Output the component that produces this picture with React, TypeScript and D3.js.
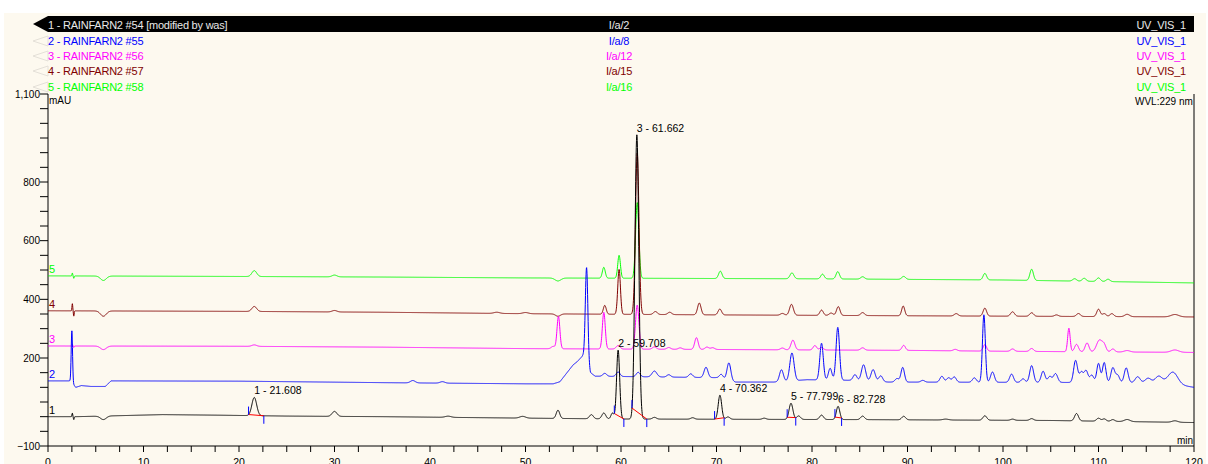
import React from "react";
import * as d3 from "d3";

// ---------- DATA ----------
const xTickLabels = [0, 10, 20, 30, 40, 50, 60, 70, 80, 90, 100, 110, 120];
const yTickLabels = [1100, 800, 600, 400, 200, -100];

const legendNames = [
  "1 - RAINFARN2 #54 [modified by was]",
  "2 - RAINFARN2 #55",
  "3 - RAINFARN2 #56",
  "4 - RAINFARN2 #57",
  "5 - RAINFARN2 #58",
];
const legendSamples = ["I/a/2", "I/a/8", "I/a/12", "I/a/15", "I/a/16"];
const legendChannels = ["UV_VIS_1", "UV_VIS_1", "UV_VIS_1", "UV_VIS_1", "UV_VIS_1"];
const traceColors = ["#000000", "#0000ff", "#ff00ff", "#800000", "#00ff00"];

// baseline knots [time(min), mAU]
const baseline1 = [[0, 0], [3, 0], [7, 3], [12, 7], [18, 5], [25, 2], [35, 0], [50, -5], [60, -8], [85, -10], [105, -13], [120, -20]];
const baseline2 = [[0, 122], [2.4, 122], [2.9, 100], [3.5, 106], [4.5, 103], [6.0, 103], [6.6, 122], [20, 121], [35, 116], [50, 112], [52.9, 112], [53.6, 119], [55.0, 177], [55.4, 187], [56.0, 208], [56.3, 210], [56.8, 150], [57.3, 138], [70, 133], [72, 118], [76, 118], [79.5, 126], [84, 124], [88, 118], [117, 116], [120, 100]];
const baseline3 = [[0, 241], [20, 240], [35, 237], [50, 232], [70, 229], [90, 226], [100, 223], [120, 219]];
const baseline4 = [[0, 361], [20, 359], [35, 356], [50, 351], [70, 347], [90, 344], [120, 340]];
const baseline5 = [[0, 480], [20, 478], [35, 476], [50, 473], [60, 472], [80, 470], [100, 466], [120, 456]];

// peaks [retention time, height mAU, sigma min]
const peaks1 = [
  [2.55, 12, 0.04], [2.7, -10, 0.04], [5.8, -12, 0.3], [21.6, 62, 0.25], [30.0, 17, 0.25],
  [41.9, 4, 0.3], [49.7, 6, 0.3], [53.4, 28, 0.18], [56.9, 14, 0.2], [58.2, 20, 0.2],
  [59.1, 20, 0.15], [59.7, 235, 0.16], [61.66, 969, 0.2], [63.5, 6, 0.2], [67.5, 5, 0.2],
  [70.36, 82, 0.18], [71.2, 8, 0.2], [75, 4, 0.2], [77.8, 55, 0.2], [78.6, 12, 0.2],
  [81.0, 15, 0.2], [82.73, 45, 0.18], [85.3, 12, 0.2], [89.6, 12, 0.2], [94, 3, 0.3],
  [98.1, 15, 0.2], [101, 4, 0.2], [103, 6, 0.2], [107.7, 25, 0.2], [110, 10, 0.2],
  [110.6, 8, 0.2], [111.5, 6, 0.2], [113, 7, 0.3], [118, 5, 0.3],
];
const peaks2 = [
  [2.5, 175, 0.07], [38.2, 8, 0.25], [41.3, 5, 0.25], [56.4, 310, 0.13], [58.3, 10, 0.2],
  [59.7, 15, 0.2], [61.8, 15, 0.2], [63.5, 20, 0.25], [65, 8, 0.2], [67.3, 12, 0.2],
  [68.9, 35, 0.2], [70.5, 15, 0.2], [71.3, 60, 0.2], [76.8, 40, 0.2], [77.9, 95, 0.22],
  [81.0, 125, 0.18], [81.9, 40, 0.18], [82.7, 180, 0.18], [84.5, 20, 0.2], [85.4, 55, 0.22],
  [86.4, 40, 0.22], [87.2, 20, 0.2], [88.9, 12, 0.2], [89.5, 50, 0.18], [91.6, 6, 0.2],
  [93.6, 20, 0.2], [94.3, 15, 0.2], [94.9, 18, 0.2], [97.0, 15, 0.2], [98.0, 230, 0.15],
  [98.9, 35, 0.2], [100.9, 28, 0.2], [102.1, 12, 0.2], [103.0, 57, 0.2], [104.2, 38, 0.2],
  [104.9, 20, 0.2], [105.5, 30, 0.22], [107.6, 75, 0.2], [108.2, 35, 0.2], [108.7, 40, 0.2],
  [109.3, 25, 0.2], [110.0, 65, 0.18], [110.6, 68, 0.18], [111.5, 50, 0.2], [112.0, 25, 0.2],
  [112.9, 50, 0.2], [114.1, 20, 0.25], [115.2, 15, 0.3], [116.3, 22, 0.35], [117.8, 40, 0.5],
];
const peaks3 = [
  [2.55, 6, 0.04], [2.7, -5, 0.04], [5.8, -12, 0.3], [21.6, 5, 0.25], [52.9, 8, 0.2],
  [53.45, 110, 0.15], [58.2, 125, 0.15], [59.7, 12, 0.2], [61.7, 150, 0.18], [63.5, 8, 0.2],
  [65, 6, 0.2], [66.2, 5, 0.2], [67.9, 40, 0.18], [69.0, 8, 0.2], [69.6, 6, 0.2],
  [76.9, 6, 0.2], [78.0, 33, 0.2], [80.3, 15, 0.18], [81, 8, 0.2], [85.3, 8, 0.2],
  [89.6, 17, 0.18], [95, 5, 0.2], [98.1, 22, 0.18], [101, 8, 0.2], [103, 10, 0.2],
  [106.9, 80, 0.13], [107.7, 25, 0.2], [108.8, 30, 0.2], [110.1, 40, 0.3], [110.6, 20, 0.2],
  [111.5, 10, 0.2], [113, 5, 0.3], [118, 8, 0.4],
];
const peaks4 = [
  [2.55, 25, 0.04], [2.7, -18, 0.04], [5.8, -18, 0.3], [21.6, 17, 0.25], [30, 5, 0.25],
  [47, 4, 0.3], [50, 4, 0.3], [53.4, -8, 0.25], [58.3, 30, 0.15], [59.8, 153, 0.14],
  [61.7, 550, 0.18], [63.6, 10, 0.2], [65.1, 8, 0.2], [68.2, 40, 0.18], [70.35, 20, 0.18],
  [76.9, 6, 0.2], [77.85, 37, 0.2], [81.0, 18, 0.18], [82.0, 8, 0.2], [82.75, 30, 0.18],
  [85.3, 10, 0.2], [89.55, 33, 0.16], [95.1, 8, 0.2], [98.1, 27, 0.18], [101, 15, 0.2],
  [103, 12, 0.2], [105.6, 5, 0.2], [107.9, 10, 0.2], [110.0, 25, 0.18], [110.6, 10, 0.2],
  [111.4, 10, 0.2], [113, 8, 0.25], [118, 8, 0.4],
];
const peaks5 = [
  [2.55, 10, 0.04], [2.7, -8, 0.04], [5.8, -15, 0.3], [21.6, 20, 0.25], [30, 6, 0.25],
  [53.4, -10, 0.3], [58.2, 37, 0.15], [59.8, 78, 0.14], [61.7, 258, 0.17], [70.4, 25, 0.18],
  [77.9, 20, 0.2], [81.1, 16, 0.18], [82.7, 25, 0.18], [85.3, 8, 0.2], [89.6, 10, 0.2],
  [98.1, 22, 0.18], [103, 38, 0.18], [107.5, 8, 0.2], [108.5, 10, 0.2], [110, 12, 0.2],
  [111, 8, 0.2],
];

// integrated peaks of trace 1: [label, apex time, start, end]
const peakLabels = ["1 - 21.608", "2 - 59.708", "3 - 61.662", "4 - 70.362", "5 - 77.799", "6 - 82.728"];
const peakApex = [21.608, 59.708, 61.662, 70.362, 77.799, 82.728];
const peakStart = [21.0, 59.3, 61.15, 69.8, 77.4, 82.4];
const peakEnd = [22.6, 60.3, 62.7, 70.8, 78.3, 83.1];

const traceBaselines = [baseline1, baseline2, baseline3, baseline4, baseline5];
const tracePeaks = [peaks1, peaks2, peaks3, peaks4, peaks5];

// ---------- LAYOUT ----------
const W = 1208;
const H = 464;
const FONT = "'Liberation Sans', Arial, sans-serif";
const X0 = 48, X1 = 1194, Y0 = 446, Y1 = 94;

function traceValue(bl: number[][], pk: number[][], t: number) {
  const b = d3.scaleLinear().domain(bl.map((d) => d[0])).range(bl.map((d) => d[1]));
  let v = b(t);
  for (const [t0, h, s] of pk) {
    const z = (t - t0) / s;
    if (Math.abs(z) < 8) v += h * Math.exp(-0.5 * z * z);
  }
  return v;
}

export default function App() {
  const x = d3.scaleLinear().domain([0, 120]).range([X0, X1]);
  const y = d3.scaleLinear().domain([-100, 1100]).range([Y0, Y1]);
  const times = d3.range(0, 120.0001, 0.02);

  const series = traceBaselines.map((bl, i) =>
    times.map((t) => [t, traceValue(bl, tracePeaks[i], t)] as [number, number])
  );

  const line = d3.line<[number, number]>().x((d) => x(d[0])).y((d) => y(d[1]));
  const xMinor = d3.range(0, 120.001, 2.5);
  const yMinor = d3.range(-100, 1100.001, 50);
  const rowY = [29, 45, 60, 75, 91];

  return (
    <svg width={W} height={H} style={{ position: "absolute", left: 0, top: 0, display: "block" }} fontFamily={FONT}>
      <rect x={0} y={0} width={W} height={H} fill="#ffffff" />
      <rect x={4} y={13} width={1202} height={H - 13} fill="#fdf9ef" />

      {/* legend header */}
      <rect x={48} y={16} width={X1 - 48} height={16} fill="#000" />
      <path d="M33,24 L48,16 L48,32 Z" fill="#000" />
      {legendNames.map((n, i) => (
        <g key={i}>
          {i > 0 && (
            <path d={`M33,${rowY[i] - 4} L48,${rowY[i] - 9} L48,${rowY[i] + 1} Z`} fill="none" stroke="#e4e0d8" strokeWidth={1} />
          )}
          <text x={48} y={rowY[i]} fontSize={11} letterSpacing={-0.22} fill={i === 0 ? "#e8e8e8" : traceColors[i]}>{n}</text>
          <text x={619} y={rowY[i]} fontSize={11} letterSpacing={-0.22} textAnchor="middle" fill={i === 0 ? "#e8e8e8" : traceColors[i]}>{legendSamples[i]}</text>
          <text x={1186} y={rowY[i]} fontSize={11} letterSpacing={-0.22} textAnchor="end" fill={i === 0 ? "#e8e8e8" : traceColors[i]}>{legendChannels[i]}</text>
        </g>
      ))}

      {/* axes */}
      <line x1={X0} y1={Y1} x2={X0} y2={Y0} stroke="#000" />
      <line x1={X1} y1={Y1} x2={X1} y2={Y0} stroke="#000" />
      <line x1={X0} y1={Y0} x2={X1} y2={Y0} stroke="#000" />
      {yMinor.map((v) => (
        <line key={v} x1={X0 - 8} x2={X0} y1={y(v)} y2={y(v)} stroke="#000" />
      ))}
      {yTickLabels.map((v) => (
        <text key={v} x={X0 - 8} y={y(v) + 3.5} fontSize={10} textAnchor="end" fill="#000">{d3.format(",")(v)}</text>
      ))}
      {xMinor.map((v) => (
        <line key={v} x1={x(v)} x2={x(v)} y1={Y0} y2={Y0 + 6} stroke="#000" />
      ))}
      {xTickLabels.map((v) => (
        <text key={v} x={x(v)} y={466} fontSize={10.5} textAnchor="middle" fill="#000">{v}</text>
      ))}
      <text x={49} y={104} fontSize={10} fill="#000">mAU</text>
      <text x={1135} y={105} fontSize={10} fill="#000">WVL:229 nm</text>
      <text x={1193} y={444} fontSize={10} textAnchor="end" fill="#000">min</text>

      {/* traces */}
      {[4, 3, 2, 1, 0].map((i) => (
        <path key={i} d={line(series[i]) || ""} fill="none" stroke={traceColors[i]} strokeWidth={1} />
      ))}
      {[0, 1, 2, 3, 4].map((i) => (
        <text key={i} x={49} y={y(traceBaselines[i][0][1]) - 3} fontSize={11} fill={traceColors[i]}>{i + 1}</text>
      ))}

      {/* integration marks */}
      {peakLabels.map((lab, i) => {
        const vs = traceValue(baseline1, peaks1, peakStart[i]);
        const ve = traceValue(baseline1, peaks1, peakEnd[i]);
        const va = traceValue(baseline1, peaks1, peakApex[i]);
        return (
          <g key={lab}>
            <line x1={x(peakStart[i])} y1={y(vs)} x2={x(peakEnd[i])} y2={y(ve)} stroke="#ff0000" />
            <line x1={x(peakStart[i])} y1={y(vs)} x2={x(peakStart[i])} y2={y(vs) - 8} stroke="#0000ff" />
            <line x1={x(peakEnd[i])} y1={y(ve)} x2={x(peakEnd[i])} y2={y(ve) + 8} stroke="#0000ff" />
            <text x={x(peakApex[i])} y={y(va) - 3} fontSize={10.5} fill="#000">{lab}</text>
          </g>
        );
      })}
    </svg>
  );
}
